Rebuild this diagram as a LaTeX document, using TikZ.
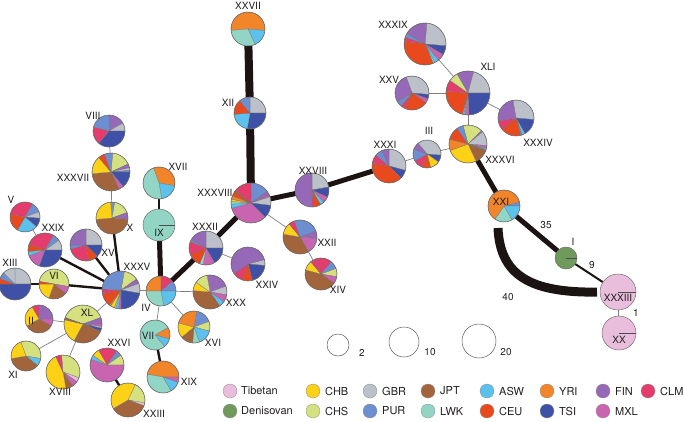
\documentclass[tikz,border=0pt]{standalone}
\usepackage{fontspec}
\setmainfont{TeX Gyre Heros}
\definecolor{cTib}{HTML}{E9BEDC}
\definecolor{cDen}{HTML}{6F9A5B}
\definecolor{cCHB}{HTML}{FCD116}
\definecolor{cCHS}{HTML}{D5E07E}
\definecolor{cGBR}{HTML}{BCC1C9}
\definecolor{cPUR}{HTML}{6D8FD1}
\definecolor{cJPT}{HTML}{A2643A}
\definecolor{cLWK}{HTML}{93D5C5}
\definecolor{cASW}{HTML}{5CC1EC}
\definecolor{cCEU}{HTML}{E84A1E}
\definecolor{cYRI}{HTML}{F2842A}
\definecolor{cTSI}{HTML}{3E51A6}
\definecolor{cFIN}{HTML}{9668B8}
\definecolor{cMXL}{HTML}{C864B0}
\definecolor{cCLM}{HTML}{E43C6C}
\definecolor{edgeblk}{HTML}{1C1412}
\definecolor{txt}{HTML}{231F20}
\newcommand{\piechart}[4]{%
  \gdef\pieang{#3}%
  \foreach \pc/\pd in {#4} {%
    \pgfmathsetmacro\pieend{\pieang-\pd}%
    \filldraw[fill=\pc, draw=black!55, line width=0.25pt] (#1.center) -- ++(\pieang:#2pt) arc[start angle=\pieang, end angle=\pieend, radius=#2pt] -- cycle;%
    \xdef\pieang{\pieend}%
  }%
  \draw[pieedge] (#1.center) circle[radius=#2pt];%
}
\newcommand{\solidpie}[3]{%
  \fill[#3] (#1.center) circle[radius=#2pt];%
  \draw[black!70, line width=0.4pt] (#1.center) -- ++(0:#2pt);%
  \draw[pieedge] (#1.center) circle[radius=#2pt];%
}
\begin{document}
\begin{tikzpicture}[x=1pt,y=-1pt,
  pn/.style={circle, inner sep=0pt, outer sep=0pt},
  pieedge/.style={draw=black!60, line width=0.45pt},
  thin/.style={draw=black!50, line width=0.7pt},
  medw/.style={draw=edgeblk, line width=2.4pt},
  thickw/.style={draw=edgeblk, line width=5pt},
  hugew/.style={draw=edgeblk, line width=8pt},
  lab/.style={font=\fontsize{10}{12}\selectfont, text=txt, inner sep=0pt},
  legc/.style={circle, inner sep=0pt, minimum size=14pt, draw=black!45, line width=0.3pt},
  legt/.style={font=\fontsize{11}{13}\selectfont, text=txt, inner sep=0pt, anchor=west},
  sizec/.style={circle, inner sep=0pt, draw=black!65, line width=0.5pt}]
\useasboundingbox (0,0) rectangle (685,421);
% ---------- haplotype nodes
\node[pn, minimum size=34pt] (n27) at (248,29) {};
\node[pn, minimum size=32pt] (n12) at (250,113) {};
\node[pn, minimum size=40pt] (n38) at (251,203) {};
\node[pn, minimum size=34pt] (n28) at (312,190) {};
\node[pn, minimum size=34pt] (n31) at (389,166) {};
\node[pn, minimum size=28pt] (n3) at (427,154) {};
\node[pn, minimum size=38pt] (n36) at (468,144) {};
\node[pn, minimum size=44pt] (n41) at (468,93) {};
\node[pn, minimum size=42pt] (n39) at (425,44) {};
\node[pn, minimum size=34pt] (n25) at (412,93) {};
\node[pn, minimum size=36pt] (n34) at (516,118) {};
\node[pn, minimum size=32pt] (n21) at (504,206) {};
\node[pn, minimum size=22pt] (n1) at (566,258) {};
\node[pn, minimum size=36pt] (n33) at (618,292) {};
\node[pn, minimum size=34pt] (n20) at (619,333) {};
\node[pn, minimum size=32pt] (n8) at (109,131) {};
\node[pn, minimum size=38pt] (n37) at (111,172) {};
\node[pn, minimum size=32pt] (n10) at (112,218) {};
\node[pn, minimum size=32pt] (n17) at (159,183) {};
\node[pn, minimum size=32pt] (n9) at (159,225) {};
\node[pn, minimum size=34pt] (n32) at (206,248) {};
\node[pn, minimum size=30pt] (n5) at (25,217) {};
\node[pn, minimum size=34pt] (n29) at (45,250) {};
\node[pn, minimum size=32pt] (n15) at (86,245) {};
\node[pn, minimum size=32pt] (n13) at (15,284) {};
\node[pn, minimum size=30pt] (n6) at (54,284) {};
\node[pn, minimum size=38pt] (n35) at (121,290) {};
\node[pn, minimum size=30pt] (n4) at (161,291) {};
\node[pn, minimum size=34pt] (n30) at (210,292) {};
\node[pn, minimum size=34pt] (n24) at (248,264) {};
\node[pn, minimum size=34pt] (n22) at (300,237) {};
\node[pn, minimum size=32pt] (n14) at (321,274) {};
\node[pn, minimum size=38pt] (n40) at (83,324) {};
\node[pn, minimum size=28pt] (n2) at (39,319) {};
\node[pn, minimum size=30pt] (n7) at (155,335) {};
\node[pn, minimum size=32pt] (n16) at (194,327) {};
\node[pn, minimum size=30pt] (n11) at (26,356) {};
\node[pn, minimum size=34pt] (n18) at (63,372) {};
\node[pn, minimum size=34pt] (n26) at (107,365) {};
\node[pn, minimum size=32pt] (n19) at (163,377) {};
\node[pn, minimum size=34pt] (n23) at (128,400) {};
\coordinate (arcS) at (498,228);
% ---------- edges
\draw[hugew] (n27) -- (n12);
\draw[hugew] (n12) -- (n38);
\draw[thickw] (n38) -- (n28);
\draw[thickw] (n28) -- (n31);
\draw[thickw] (n36) -- (n21);
\draw[thickw] (n21) -- (n1);
\draw[thickw] (n38) -- (n32);
\draw[thickw] (n32) -- (n4);
\draw[thickw] (n9) -- (n4);
\draw[draw=edgeblk, line width=2pt] (n1) -- (n33);
\draw[medw] (n9) -- (n17);
\draw[medw] (n7) -- (n19);
\draw[medw] (n26) -- (n23);
\draw[medw] (n35) -- (n10);
\draw[medw] (n35) -- (n15);
\draw[medw] (n35) -- (n29);
\draw[medw] (n35) -- (n6);
\draw[medw] (n6) -- (n13);
\draw[thin] (n31) -- (n3);
\draw[thin] (n3) -- (n36);
\draw[thin] (n36) -- (n41);
\draw[thin] (n41) -- (n39);
\draw[thin] (n41) -- (n25);
\draw[thin] (n41) -- (n34);
\draw[thin] (n33) -- (n20);
\draw[thin] (n38) -- (n22);
\draw[thin] (n22) -- (n14);
\draw[thin] (n32) -- (n24);
\draw[thin] (n4) -- (n35);
\draw[thin] (n4) -- (n30);
\draw[thin] (n4) -- (n7);
\draw[thin] (n4) -- (n16);
\draw[thin] (n10) -- (n37);
\draw[thin] (n37) -- (n8);
\draw[thin] (n29) -- (n5);
\draw[thin] (n35) -- (n40);
\draw[thin] (n40) -- (n2);
\draw[thin] (n40) -- (n11);
\draw[thin] (n40) -- (n18);
\draw[draw=edgeblk, line width=9pt, shorten >=3pt] (arcS) .. controls (500,275) and (530,293) .. (n33.west);
% ---------- pies
\piechart{n27}{17}{185}{cYRI/190,cASW/60,cLWK/110}
\piechart{n12}{16}{90}{cGBR/90,cTSI/100,cASW/75,cCEU/55,cPUR/40}
\piechart{n38}{20}{90}{cPUR/55,cFIN/12,cMXL/5,cGBR/25,cTSI/38,cMXL/120,cASW/12,cLWK/8,cCHB/6,cYRI/10,cCEU/14,cJPT/5,cCLM/50}
\piechart{n28}{17}{90}{cGBR/80,cTSI/35,cMXL/20,cASW/15,cCEU/25,cCLM/5,cFIN/180}
\piechart{n31}{17}{90}{cGBR/105,cTSI/30,cCEU/145,cCLM/30,cPUR/25,cFIN/25}
\piechart{n3}{14}{130}{cGBR/135,cTSI/30,cCHB/40,cCEU/35,cCLM/40,cPUR/50,cFIN/30}
\piechart{n36}{19}{105}{cCHS/60,cFIN/5,cGBR/45,cMXL/8,cASW/4,cPUR/3,cJPT/45,cCHB/95,cYRI/35,cCEU/40,cPUR/20}
\piechart{n41}{22}{120}{cFIN/45,cGBR/75,cTSI/88,cMXL/10,cASW/4,cLWK/3,cCEU/80,cCLM/30,cCHS/25}
\piechart{n39}{21}{85}{cGBR/90,cTSI/25,cMXL/20,cASW/12,cLWK/5,cCEU/120,cCLM/12,cPUR/12,cFIN/64}
\piechart{n25}{17}{110}{cGBR/115,cTSI/15,cMXL/15,cCEU/80,cCLM/15,cPUR/20,cFIN/100}
\piechart{n34}{18}{100}{cGBR/105,cTSI/55,cASW/10,cPUR/5,cCEU/65,cCLM/30,cFIN/90}
\piechart{n21}{16}{15}{cPUR/15,cASW/60,cLWK/65,cYRI/220}
\solidpie{n1}{11}{cDen}
\solidpie{n33}{18}{cTib}
\solidpie{n20}{17}{cTib}
\piechart{n8}{16}{90}{cFIN/60,cGBR/30,cTSI/130,cCLM/65,cPUR/75}
\piechart{n37}{19}{85}{cCHS/60,cFIN/12,cGBR/8,cPUR/5,cTSI/50,cMXL/15,cJPT/110,cCHB/55,cCEU/20,cPUR/25}
\piechart{n10}{16}{95}{cPUR/15,cCHS/60,cFIN/25,cJPT/170,cCHB/90}
\piechart{n17}{16}{110}{cYRI/120,cASW/70,cLWK/170}
\solidpie{n9}{16}{cLWK}
\piechart{n32}{17}{90}{cGBR/90,cTSI/60,cMXL/40,cLWK/12,cCEU/45,cCLM/45,cPUR/8,cFIN/60}
\piechart{n5}{15}{170}{cCLM/110,cPUR/40,cGBR/25,cTSI/35,cASW/80,cCEU/70}
\piechart{n29}{17}{160}{cCLM/100,cPUR/25,cGBR/35,cTSI/110,cMXL/50,cASW/15,cCEU/25}
\piechart{n15}{16}{90}{cGBR/90,cTSI/45,cCEU/35,cCLM/85,cPUR/15,cFIN/90}
\piechart{n13}{16}{90}{cGBR/90,cTSI/180,cCEU/20,cPUR/25,cGBR/45}
\piechart{n6}{15}{170}{cCHS/180,cMXL/30,cJPT/70,cCHB/70,cCEU/10}
\piechart{n35}{19}{80}{cCHS/45,cFIN/15,cGBR/30,cTSI/80,cMXL/8,cASW/8,cLWK/5,cCHB/12,cYRI/5,cCEU/40,cCLM/15,cPUR/97}
\piechart{n4}{15}{180}{cYRI/90,cCLM/50,cPUR/40,cASW/80,cLWK/100}
\piechart{n30}{17}{100}{cFIN/80,cGBR/30,cMXL/25,cASW/20,cJPT/130,cCHB/30,cCHS/45}
\piechart{n24}{17}{15}{cGBR/20,cTSI/70,cCEU/35,cCLM/35,cFIN/200}
\piechart{n22}{17}{110}{cPUR/90,cFIN/25,cMXL/55,cJPT/130,cCHB/40,cCLM/20}
\piechart{n14}{16}{110}{cCLM/60,cPUR/30,cCHS/30,cMXL/25,cJPT/160,cCHB/35,cCLM/20}
\piechart{n40}{19}{160}{cCHS/140,cFIN/20,cMXL/8,cGBR/5,cTSI/10,cJPT/95,cCHB/75,cJPT/5,cCEU/2}
\piechart{n2}{14}{120}{cCLM/30,cFIN/90,cMXL/30,cJPT/120,cCHB/90}
\piechart{n7}{15}{30}{cYRI/45,cASW/35,cLWK/280}
\piechart{n16}{16}{80}{cPUR/60,cCHS/35,cASW/55,cLWK/25,cJPT/45,cCHB/55,cYRI/85}
\piechart{n11}{15}{110}{cCHS/120,cASW/30,cJPT/130,cCHB/80}
\piechart{n18}{17}{95}{cCHS/115,cTib/15,cMXL/20,cJPT/25,cCHB/165,cCLM/20}
\piechart{n26}{17}{120}{cCLM/65,cPUR/20,cCHS/35,cMXL/200,cASW/15,cCHB/25}
\piechart{n19}{16}{170}{cYRI/170,cMXL/20,cASW/40,cLWK/130}
\piechart{n23}{17}{65}{cCHS/75,cTib/10,cJPT/130,cCHB/145}
% ---------- labels
\node[lab] (l27) at (248,6) {XXVII};
\node[lab] (l12) at (228,103) {XII};
\node[lab] (l38) at (215,193) {XXXVIII};
\node[lab] (l28) at (313,171) {XXVIII};
\node[lab] (l31) at (385,145) {XXXI};
\node[lab] (l3) at (429,131) {III};
\node[lab] (l36) at (500,160) {XXXVI};
\node[lab] (l41) at (488,67) {XLI};
\node[lab] (l39) at (393,25) {XXXIX};
\node[lab] (l25) at (389,80) {XXV};
\node[lab] (l34) at (538,143) {XXXIV};
\node[lab] (l21) at (501,202) {XXI};
\node[lab] (l1) at (573,242) {I};
\node[lab] (l33) at (618,298) {XXXIII};
\node[lab] (l20) at (619,340) {XX};
\node[lab] (l8) at (93,116) {VIII};
\node[lab] (l37) at (73,178) {XXXVII};
\node[lab] (l10) at (130,228) {X};
\node[lab] (l17) at (178,167) {XVII};
\node[lab] (l9) at (159,233) {IX};
\node[lab] (l32) at (205,227) {XXXII};
\node[lab] (l5) at (11,200) {V};
\node[lab] (l29) at (53,228) {XXIX};
\node[lab] (l15) at (108,253) {XV};
\node[lab] (l13) at (10,263) {XIII};
\node[lab] (l6) at (54,276) {VI};
\node[lab] (l35) at (137,267) {XXXV};
\node[lab] (l4) at (146,308) {IV};
\node[lab] (l30) at (236,303) {XXX};
\node[lab] (l24) at (267,285) {XXIV};
\node[lab] (l22) at (327,243) {XXII};
\node[lab] (l14) at (338,290) {XIV};
\node[lab] (l40) at (87,313) {XL};
\node[lab] (l2) at (31,321) {II};
\node[lab] (l7) at (148,336) {VII};
\node[lab] (l16) at (213,343) {XVI};
\node[lab] (l11) at (13,375) {XI};
\node[lab] (l18) at (60,392) {XVIII};
\node[lab] (l26) at (119,343) {XXVI};
\node[lab] (l19) at (189,382) {XIX};
\node[lab] (l23) at (154,414) {XXIII};
% ---------- edge labels
\node[lab] (e35) at (546,225) {35};
\node[lab] (e9) at (592,265) {9};
\node[lab] (e40) at (508,297) {40};
\node[lab] (e1) at (636,313) {1};
% ---------- size legend
\node[sizec, minimum size=22pt] (s2) at (338,345) {};
\node[lab] (s2t) at (362,353) {2};
\node[sizec, minimum size=30pt] (s10) at (404,342) {};
\node[lab] (s10t) at (430,352) {10};
\node[sizec, minimum size=34pt] (s20) at (479,341) {};
\node[lab] (s20t) at (506,352) {20};
% ---------- colour legend
\node[legc, fill=cTib] (k1) at (230,391) {};
\node[legt] (k1t) at (241,391) {Tibetan};
\node[legc, fill=cCHB] (k2) at (313,391) {};
\node[legt] (k2t) at (325,391) {CHB};
\node[legc, fill=cGBR] (k3) at (370,391) {};
\node[legt] (k3t) at (382,391) {GBR};
\node[legc, fill=cJPT] (k4) at (428,391) {};
\node[legt] (k4t) at (440,391) {JPT};
\node[legc, fill=cASW] (k5) at (487,391) {};
\node[legt] (k5t) at (499,391) {ASW};
\node[legc, fill=cYRI] (k6) at (547,391) {};
\node[legt] (k6t) at (559,391) {YRI};
\node[legc, fill=cFIN] (k7) at (603,391) {};
\node[legt] (k7t) at (615,391) {FIN};
\node[legc, fill=cCLM] (k8) at (648,391) {};
\node[legt] (k8t) at (660,391) {CLM};
\node[legc, fill=cDen] (k9) at (230,411) {};
\node[legt] (k9t) at (241,411) {Denisovan};
\node[legc, fill=cCHS] (k10) at (313,411) {};
\node[legt] (k10t) at (325,411) {CHS};
\node[legc, fill=cPUR] (k11) at (370,411) {};
\node[legt] (k11t) at (382,411) {PUR};
\node[legc, fill=cLWK] (k12) at (428,411) {};
\node[legt] (k12t) at (440,411) {LWK};
\node[legc, fill=cCEU] (k13) at (487,411) {};
\node[legt] (k13t) at (499,411) {CEU};
\node[legc, fill=cTSI] (k14) at (547,411) {};
\node[legt] (k14t) at (559,411) {TSI};
\node[legc, fill=cMXL] (k15) at (603,411) {};
\node[legt] (k15t) at (615,411) {MXL};
\end{tikzpicture}
\end{document}
